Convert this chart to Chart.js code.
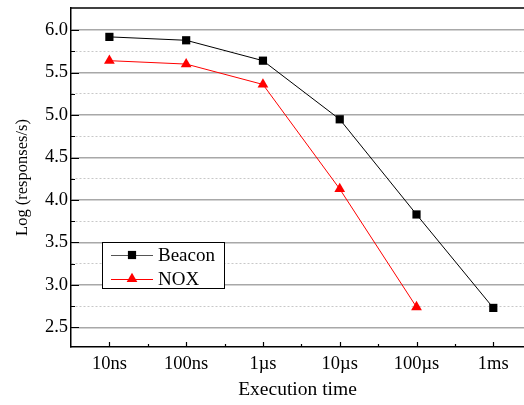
<!DOCTYPE html>
<html>
<head>
<meta charset="utf-8">
<script src="https://cdn.jsdelivr.net/npm/chart.js@4/dist/chart.umd.min.js"></script>
<style>
  html, body { margin: 0; padding: 0; background: #fff; overflow: hidden; }
  canvas { display: block; }
</style>
</head>
<body>
<canvas id="c" width="524" height="405"></canvas>
<script>
'use strict';

/* ── DATA ── */
const categories = ['10ns', '100ns', '1\u00b5s', '10\u00b5s', '100\u00b5s', '1ms'];
const beacon     = [5.92, 5.88, 5.64, 4.95, 3.83, 2.73];
const nox        = [5.64, 5.60, 5.36, 4.13, 2.74];
const yTicks     = [2.5, 2.75, 3.0, 3.25, 3.5, 3.75, 4.0, 4.25, 4.5, 4.75, 5.0, 5.25, 5.5, 5.75, 6.0];

const SERIF = '"Liberation Serif", "Times New Roman", serif';
const isMajor = v => Math.abs(v * 2 - Math.round(v * 2)) < 1e-6;

const toPoints = arr => arr.map((y, i) => ({ x: i, y }));

/* ── TICKS + FRAME ── */
const frame = {
  id: 'frame',
  afterDraw(chart) {
    const { ctx, chartArea: a, scales } = chart;
    ctx.save();
    ctx.strokeStyle = '#000';
    ctx.lineWidth = 1.5;
    ctx.beginPath();
    ctx.moveTo(a.left, a.top);
    ctx.lineTo(a.right, a.top);
    ctx.stroke();

    ctx.lineWidth = 1.2;
    ctx.beginPath();
    for (let v = 0; v <= 5; v += 0.5) {
      const px = Math.round(scales.x.getPixelForValue(v)) + 0.5;
      const len = Number.isInteger(v) ? 5 : 3;
      ctx.moveTo(px, a.bottom);
      ctx.lineTo(px, a.bottom - len);
    }
    yTicks.forEach(v => {
      const py = Math.round(scales.y.getPixelForValue(v)) + 0.5;
      const len = isMajor(v) ? 8 : 4;
      ctx.moveTo(a.left, py);
      ctx.lineTo(a.left + len, py);
    });
    ctx.stroke();
    ctx.restore();
  }
};

/* ── LEGEND ── */
const boxLegend = {
  id: 'boxLegend',
  afterDraw(chart) {
    const { ctx } = chart;
    const items = [
      { label: 'Beacon', line: '#555', ds: chart.data.datasets[0] },
      { label: 'NOX',    line: '#ff0000', ds: chart.data.datasets[1] },
    ];
    ctx.save();
    ctx.fillStyle = '#fff';
    ctx.fillRect(102, 242, 122, 46);
    ctx.strokeStyle = '#000';
    ctx.lineWidth = 1;
    ctx.strokeRect(102.5, 242.5, 122, 46);
    items.forEach((it, i) => {
      const y = 255 + i * 24;
      ctx.strokeStyle = it.line;
      ctx.lineWidth = 1;
      ctx.beginPath();
      ctx.moveTo(111, y + 0.5);
      ctx.lineTo(153, y + 0.5);
      ctx.stroke();
      ctx.fillStyle = it.ds.pointBackgroundColor;
      Chart.helpers.drawPoint(ctx, {
        pointStyle: it.ds.pointStyle,
        radius: it.ds.pointRadius,
        borderWidth: 0,
        rotation: 0,
      }, 132, y);
      ctx.fillStyle = '#000';
      ctx.font = '19px ' + SERIF;
      ctx.textBaseline = 'middle';
      ctx.textAlign = 'left';
      ctx.fillText(it.label, 158, y + 1);
    });
    ctx.restore();
  }
};

new Chart(document.getElementById('c'), {
  type: 'line',
  data: {
    datasets: [
      {
        label: 'Beacon',
        data: toPoints(beacon),
        borderColor: '#000',
        borderWidth: 1,
        pointStyle: 'rect',
        pointRadius: 5.8,
        pointBackgroundColor: '#000',
        pointBorderColor: '#000',
        pointBorderWidth: 0,
      },
      {
        label: 'NOX',
        data: toPoints(nox),
        borderColor: '#ff0000',
        borderWidth: 1,
        pointStyle: 'triangle',
        pointRadius: 6.2,
        pointBackgroundColor: '#ff0000',
        pointBorderColor: '#ff0000',
        pointBorderWidth: 0,
      },
    ],
  },
  options: {
    responsive: false,
    animation: false,
    layout: { autoPadding: false, padding: { top: 8, right: 0, left: 0, bottom: 0 } },
    plugins: { legend: { display: false }, tooltip: { enabled: false } },
    scales: {
      x: {
        type: 'linear',
        min: -0.5,
        max: 5.4,
        afterFit: s => { s.height = 58; s.paddingLeft = 0; s.paddingRight = 0; },
        afterBuildTicks: s => { s.ticks = categories.map((_, i) => ({ value: i })); },
        grid: { display: false, drawTicks: false },
        border: { color: '#000', width: 1.5 },
        ticks: {
          color: '#000',
          padding: 6,
          maxRotation: 0,
          autoSkip: false,
          font: { family: SERIF, size: 18.5 },
          callback: v => categories[v] ?? '',
        },
        title: {
          display: true,
          text: 'Execution time',
          color: '#000',
          font: { family: SERIF, size: 19.5 },
          padding: { top: 0, bottom: 3 },
        },
      },
      y: {
        min: 2.27,
        max: 6.26,
        afterFit: s => { s.width = 71; s.paddingTop = 0; s.paddingBottom = 0; },
        afterBuildTicks: s => { s.ticks = yTicks.map(v => ({ value: v })); },
        grid: {
          drawTicks: false,
          color: c => (c.tick && isMajor(c.tick.value)) ? '#a8a8a8' : '#c8c8c8',
          lineWidth: c => (c.tick && isMajor(c.tick.value)) ? 1.5 : 1,
        },
        border: {
          color: '#000',
          width: 1.5,
          dash: c => (!c.tick || isMajor(c.tick.value)) ? [] : [2, 2],
        },
        ticks: {
          color: '#000',
          padding: 3,
          autoSkip: false,
          font: { family: SERIF, size: 18.5 },
          callback: v => (isMajor(v) ? v.toFixed(1) : ''),
        },
        title: {
          display: true,
          text: 'Log (responses/s)',
          color: '#000',
          font: { family: SERIF, size: 16.5 },
          padding: { top: 13, bottom: 0 },
        },
      },
    },
  },
  plugins: [frame, boxLegend],
});
</script>
</body>
</html>
